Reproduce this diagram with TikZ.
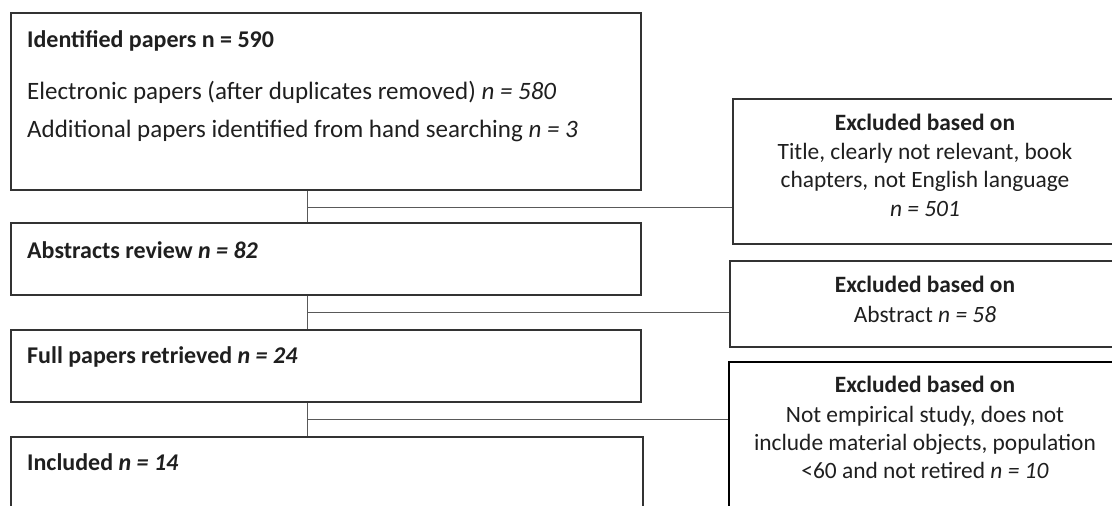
\documentclass[tikz,border=0pt]{standalone}
\usepackage{fontspec}
\setmainfont{Carlito}
\begin{document}
\begin{tikzpicture}[x=1pt,y=-1pt,
  box/.style={draw=black!80, line width=1.8pt, fill=white, inner sep=0pt, anchor=north west},
  boxb/.style={box, draw=black, line width=2.4pt},
  lt/.style={anchor=base west, inner sep=0pt, text=black!88, font=\fontsize{25}{29}\selectfont},
  ltb/.style={lt, font=\fontsize{24}{28}\selectfont\bfseries},
  rt/.style={anchor=base, inner sep=0pt, text=black!88, font=\fontsize{23.4}{27}\selectfont},
  conn/.style={draw=black!65, line width=1pt}]
\clip (0,0) rectangle (1112,506);
\fill[white] (0,0) rectangle (1112,506);
% left boxes
\node[box, minimum width=630pt, minimum height=177pt] (b1) at (10,12) {};
\node[box, minimum width=630pt, minimum height=72pt] (b2) at (10,222) {};
\node[box, minimum width=630pt, minimum height=72pt] (b3) at (10,329) {};
\node[box, minimum width=632pt, minimum height=130pt] (b4) at (10,436) {};
% right boxes
\node[box, minimum width=386pt, minimum height=145pt] (r1) at (732,98) {};
\node[box, minimum width=389pt, minimum height=86pt] (r2) at (729,260) {};
\node[boxb, minimum width=390pt, minimum height=200pt] (r3) at (728,361) {};
% left texts
\node[ltb] (t1a) at (27,47) {Identified papers n = 590};
\node[lt] (t1b) at (27,99) {Electronic papers (after duplicates removed) \textit{n = 580}};
\node[lt] (t1c) at (27,137) {Additional papers identified from hand searching \textit{n = 3}};
\node[ltb] (t2) at (27,258) {Abstracts review \textit{n = 82}};
\node[ltb] (t3) at (27,363) {Full papers retrieved \textit{n = 24}};
\node[ltb] (t4) at (27,470) {Included \textit{n = 14}};
% right texts
\node[rt] (u1a) at (925,130) {\textbf{Excluded based on}};
\node[rt] (u1b) at (925,159) {Title, clearly not relevant, book};
\node[rt] (u1c) at (925,187) {chapters, not English language};
\node[rt] (u1d) at (925,216) {\textit{n = 501}};
\node[rt] (u2a) at (925,292) {\textbf{Excluded based on}};
\node[rt] (u2b) at (925,322) {Abstract \textit{n = 58}};
\node[rt] (u3a) at (925,392) {\textbf{Excluded based on}};
\node[rt] (u3b) at (925,422) {Not empirical study, does not};
\node[rt] (u3c) at (925,450) {include material objects, population};
\node[rt] (u3d) at (925,478) {<60 and not retired \textit{n = 10}};
% connectors
\coordinate (j1) at (307,207);
\coordinate (j2) at (307,312);
\coordinate (j3) at (307,419);
\draw[conn] (b1.south -| j1) -- (b2.north -| j1);
\draw[conn] (j1) -- (j1 -| r1.west);
\draw[conn] (b2.south -| j2) -- (b3.north -| j2);
\draw[conn] (j2) -- (j2 -| r2.west);
\draw[conn] (b3.south -| j3) -- (b4.north -| j3);
\draw[conn] (j3) -- (j3 -| r3.west);
\end{tikzpicture}
\end{document}
